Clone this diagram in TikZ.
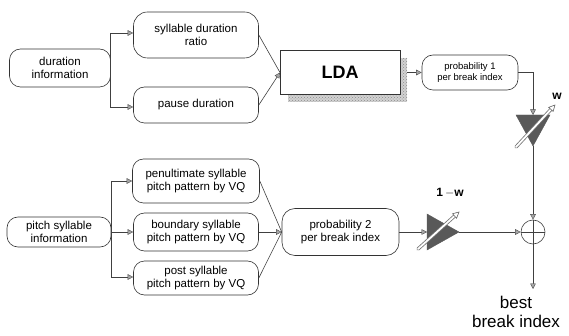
\documentclass[tikz,border=0pt]{standalone}
\usepackage{fontspec}
\setmainfont{Liberation Sans}
\usetikzlibrary{arrows.meta,calc,patterns}
\tikzset{
  rbox/.style={draw=black!80, rounded corners=11pt, align=center, inner sep=2pt, font=\fontsize{11.5}{13.5}\selectfont, line width=0.6pt},
  conn/.style={draw=black!75, line width=0.6pt},
  arr/.style={conn, -{Triangle[length=5.5pt,width=5.5pt,fill=gray!70,color=black!70,line width=0.4pt]}},
  amp/.style={fill=black!65, draw=black!65},
}
\begin{document}
\begin{tikzpicture}[x=1pt,y=-1pt]
\useasboundingbox (0,0) rectangle (569,336);
% upper branch
\node[rbox, minimum width=101pt, minimum height=38pt] (dur) at (60,68) {duration\\information};
\node[rbox, minimum width=125pt, minimum height=46pt, rounded corners=14pt] (sdr) at (196,35) {syllable duration\\ratio};
\node[rbox, minimum width=125pt, minimum height=36pt] (pd) at (196,105) {pause duration};
% LDA with shadow
\fill[gray!35] (288,58) rectangle (407,102);
\fill[pattern=crosshatch dots, pattern color=gray!90] (288,58) rectangle (407,102);
\node[draw=black!80, fill=white, line width=0.7pt, minimum width=120pt, minimum height=44pt, font=\fontsize{18}{20}\selectfont\bfseries] (lda) at (340,72.5) {LDA};
\coordinate (ldain) at (280,72.5);
\coordinate (ldaout) at (407,72.5);
\node[rbox, minimum width=96pt, minimum height=35pt, font=\fontsize{9.5}{11.5}\selectfont] (p1) at (470,72.5) {probability 1\\per break index};
% lower branch
\node[rbox, minimum width=104pt, minimum height=30pt] (psi) at (59,232) {pitch syllable\\information};
\node[rbox, minimum width=127pt, minimum height=44pt] (pen) at (196,181) {penultimate syllable\\pitch pattern by VQ};
\node[rbox, minimum width=125pt, minimum height=38pt] (bnd) at (196,232) {boundary syllable\\pitch pattern by VQ};
\node[rbox, minimum width=125pt, minimum height=34pt] (pst) at (196,278) {post syllable\\pitch pattern by VQ};
\node[rbox, minimum width=117pt, minimum height=47pt, rounded corners=13pt] (p2) at (340.5,232) {probability 2\\per break index};
% amplifiers
\coordinate (a1top) at (533,115);
\coordinate (a1apex) at (533,146);
\fill[amp] (516,115) -- (550,115) -- (533,146) -- cycle;
\coordinate (a2in) at (427,232);
\coordinate (a2apex) at (459,232);
\fill[amp] (427,214) -- (427,250) -- (459,232) -- cycle;
% sum
\node[draw=black!75, circle, minimum size=24pt, inner sep=0pt, line width=0.6pt] (sum) at (533,232) {};
\draw[conn] (sum.north) -- (sum.south) (sum.west) -- (sum.east);
\coordinate (outend) at (533,289);
\node[font=\fontsize{17}{18.5}\selectfont, align=center, anchor=north, inner sep=1pt] (best) at (516,295) {best\\break index};
% connectors upper
\coordinate (j1) at (110,33);
\coordinate (j2) at (110,107);
\draw[conn] (j1) -- (j2);
\draw[arr] (j1) -- (sdr.west |- j1);
\draw[arr] (j2) -- (pd.west |- j2);
\draw[conn] (sdr.east) -- (ldain);
\draw[arr] (pd.east) -- (ldain);
\draw[arr] (ldaout) -- (p1.west);
\draw[arr] (p1.east) -| (a1top);
\draw[arr] (a1apex) -- (sum.north);
% connectors lower
\coordinate (k1) at (111,181);
\coordinate (k3) at (111,277);
\draw[conn] (k1) -- (k3);
\draw[arr] (k1) -- (pen.west |- k1);
\draw[arr] (psi.east) -- (bnd.west);
\draw[arr] (k3) -- (pst.west |- k3);
\coordinate (p2in) at (p2.west);
\draw[conn] (pen.east) -- (p2in);
\draw[conn] (pst.east) -- (p2in);
\draw[arr] (bnd.east) -- (p2in);
\draw[arr] (p2.east) -- (a2in);
\draw[arr] (a2apex) -- (sum.west);
\draw[arr] (sum.south) -- (outend);
% variable gain arrows
\coordinate (g1s) at (516,147);
\coordinate (g1e) at (555,105);
\draw[line width=3.4pt, black!55, line cap=round] (g1s) -- ($(g1e)!3pt!(g1s)$);
\draw[line width=1.8pt, white, line cap=round] (g1s) -- ($(g1e)!3pt!(g1s)$);
\draw[black!60, line width=0.6pt, fill=white] (g1e) -- ($(g1e)!6pt!(g1s)!3pt!90:(g1s)$) -- ($(g1e)!6pt!(g1s)!3pt!-90:(g1s)$) -- cycle;
\node[font=\fontsize{12}{12}\selectfont\bfseries] (wl) at (557,96) {w};
\coordinate (g2s) at (418,249);
\coordinate (g2e) at (459,212);
\draw[line width=3.4pt, black!55, line cap=round] (g2s) -- ($(g2e)!3pt!(g2s)$);
\draw[line width=1.8pt, white, line cap=round] (g2s) -- ($(g2e)!3pt!(g2s)$);
\draw[black!60, line width=0.6pt, fill=white] (g2e) -- ($(g2e)!6pt!(g2s)!3pt!90:(g2s)$) -- ($(g2e)!6pt!(g2s)!3pt!-90:(g2s)$) -- cycle;
\node[font=\fontsize{12}{12}\selectfont\bfseries] (wl2) at (450,193) {1\,$-$w};
\end{tikzpicture}
\end{document}
